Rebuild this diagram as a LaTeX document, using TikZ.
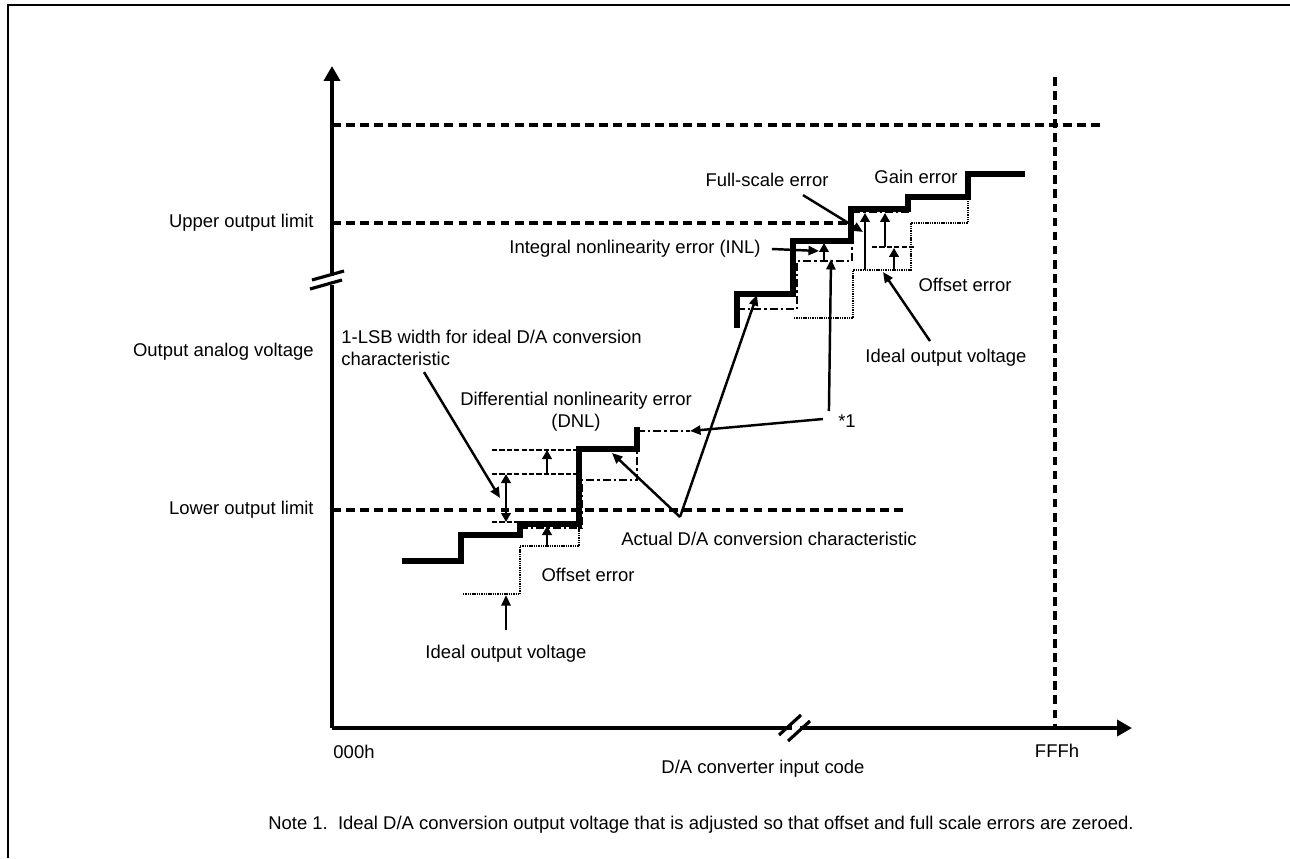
\documentclass[tikz,border=0pt]{standalone}
\usepackage{fontspec}
\setmainfont{Liberation Sans}
\usetikzlibrary{arrows.meta,calc}
\tikzset{axis/.style={line width=2.6pt},
actual/.style={line width=2.9pt},
ideal/.style={line width=1.5pt, dash pattern=on 0.8pt off 0.5pt},
adjusted/.style={line width=1.6pt, dash pattern=on 4.5pt off 1.8pt on 1.2pt off 1.8pt},
limit/.style={line width=1.9pt, dash pattern=on 5pt off 3pt},
refline/.style={line width=1.4pt, dash pattern=on 3pt off 1.2pt},
pointer/.style={line width=1.4pt, -{Triangle[length=2.1mm, width=1.8mm]}},
measure/.style={line width=1.4pt, -{Triangle[length=1.8mm, width=1.9mm]}},
twoway/.style={line width=1.4pt, {Triangle[length=1.8mm, width=1.9mm]}-{Triangle[length=1.8mm, width=1.9mm]}},
label/.style={inner sep=0pt, font=\fontsize{10.5}{12.5}\selectfont}}

\begin{document}
\begin{tikzpicture}[x=0.02cm, y=-0.02cm]
    \useasboundingbox (0,0) rectangle (1290,858);
    % Draw the frame
    \draw[line width=1.6pt] (8,858) -- (8,5) -- (1290,5);

    % Define the ends of the axes
    \coordinate (origin) at (332,728);
    \coordinate (ytop) at (332,66);
    \coordinate (xend) at (1132,728);

    % Draw the axes with their breaks
    \draw[axis] (origin) -- (332,285);
    \draw[axis, -{Triangle[length=3mm, width=3.2mm]}] (332,276) -- (ytop);
    \draw[axis] (origin) -- (792,728);
    \draw[axis, -{Triangle[length=3mm, width=3.2mm]}] (800,728) -- (xend);
    \draw[line width=1.8pt] (312,280) -- (344,271) (310,289) -- (342,280);
    \draw[line width=1.8pt] (779,735) -- (801,715) (788,741) -- (810,721);

    % Draw the limits and the full-scale code
    \draw[limit] (origin |- 0,125) -- (1102,125);
    \draw[limit] (origin |- 0,223) -- (848,223);
    \draw[limit] (origin |- 0,510) -- (905,510);
    \draw[limit] (1055,77) -- (1055,728);

    % Draw the actual characteristic
    \draw[actual] (402,561) -| (461,535) -| (520,524) -| (579,449) -| (637,427);
    \draw[actual] (737,328) |- (793,294) |- (851,241) |- (908,209) |- (968,197) |- (1025,174);

    % Draw the ideal output voltage
    \draw[ideal] (463,594) -| (520,546) -| (579,527);
    \draw[ideal] (794,318) -| (853,270) -| (911,223) -| (968,197);

    % Draw the adjusted ideal characteristic (*1)
    \draw[adjusted] (520,528) -| (582,480) -| (637,449);
    \draw[adjusted] (637,431) -- (690,431);
    \draw[adjusted] (737,309) -| (797,261) -| (852,212) -| (908,200);

    % Draw the 1-LSB reference lines
    \draw[refline] (492,450) -- (579,450);
    \draw[refline] (492,474) -- (579,474);
    \draw[refline] (492,522) -- (520,522);
    \draw[refline] (872,247) -- (914,247);

    % Define the ends of the error arrows
    \coordinate (lsbA) at (506,474);
    \coordinate (lsbB) at (506,522);
    \coordinate (dnlA) at (547,474);
    \coordinate (dnlB) at (547,450);
    \coordinate (offA) at (547,546);
    \coordinate (offB) at (547,526);
    \coordinate (inlA) at (824,261);
    \coordinate (inlB) at (824,243);
    \coordinate (fsA) at (865,270);
    \coordinate (fsB) at (865,213);
    \coordinate (gainA) at (885,247);
    \coordinate (gainB) at (885,213);
    \coordinate (offupA) at (894,270);
    \coordinate (offupB) at (894,248);

    % Draw the error arrows
    \draw[twoway] (lsbA) -- (lsbB);
    \draw[measure] (dnlA) -- (dnlB);
    \draw[measure] (offA) -- (offB);
    \draw[measure] (inlA) -- (inlB);
    \draw[measure] (fsA) -- (fsB);
    \draw[measure] (gainA) -- (gainB);
    \draw[measure] (offupA) -- (offupB);

    % Place the labels
    \node[label, anchor=east] (upperlim) at (314,223) {Upper output limit};
    \node[label, anchor=east] (outvolt) at (314,352) {Output analog voltage};
    \node[label, anchor=east] (lowerlim) at (314,510) {Lower output limit};
    \node[label] (zerocode) at (354,752) {000h};
    \node[label] (fullcode) at (1057,751) {FFFh};
    \node[label] (inputcode) at (763,769) {D/A converter input code};
    \node[label, anchor=west] (note) at (268,825) {Note 1.\ \ Ideal D/A conversion output voltage that is adjusted so that offset and full scale errors are zeroed.};
    \node[label, anchor=west, align=left] (lsbtext) at (341,348) {1-LSB width for ideal D/A conversion\\characteristic};
    \node[label, align=center] (dnltext) at (576,412) {Differential nonlinearity error\\(DNL)};
    \node[label] (offlow) at (588,575) {Offset error};
    \node[label] (ideallow) at (506,654) {Ideal output voltage};
    \node[label, anchor=west] (actual) at (621,539) {Actual D/A conversion characteristic};
    \node[label] (starone) at (847,421) {*1};
    \node[label] (idealup) at (946,358) {Ideal output voltage};
    \node[label] (offup) at (965,285) {Offset error};
    \node[label] (inltext) at (635,249) {Integral nonlinearity error (INL)};
    \node[label] (fstext) at (767,180) {Full-scale error};
    \node[label] (gaintext) at (916,177) {Gain error};

    % Define the tips of the pointers
    \coordinate (lsbhead) at (500,498);
    \coordinate (vapex) at (680,517);
    \coordinate (actlow) at (612,453);
    \coordinate (acthigh) at (757,295);
    \coordinate (starlow) at (690,431);
    \coordinate (starhigh) at (831,259);
    \coordinate (inlhead) at (819,251);
    \coordinate (fshead) at (863,232);
    \coordinate (idealuphead) at (883,272);
    \coordinate (ideallowhead) at (506,595);

    % Draw the pointers
    \draw[pointer] ([xshift=1.66cm, yshift=-0.12cm]lsbtext.south west) -- (lsbhead);
    \draw[pointer] (vapex) -- (actlow);
    \draw[pointer] (vapex) -- (acthigh);
    \draw[pointer] ([xshift=-0.3cm, yshift=0.04cm]starone.west) -- (starlow);
    \draw[pointer] ([xshift=-0.18cm, yshift=0.2cm]starone.west) -- (starhigh);
    \draw[pointer] ([xshift=0.22cm]inltext.east) -- (inlhead);
    \draw[pointer] ([xshift=0.72cm, yshift=-0.16cm]fstext.south) -- (fshead);
    \draw[pointer] ([xshift=-0.32cm, yshift=0.16cm]idealup.north) -- (idealuphead);
    \draw[pointer] ([yshift=0.3cm]ideallow.north) -- (ideallowhead);
\end{tikzpicture}
\end{document}
